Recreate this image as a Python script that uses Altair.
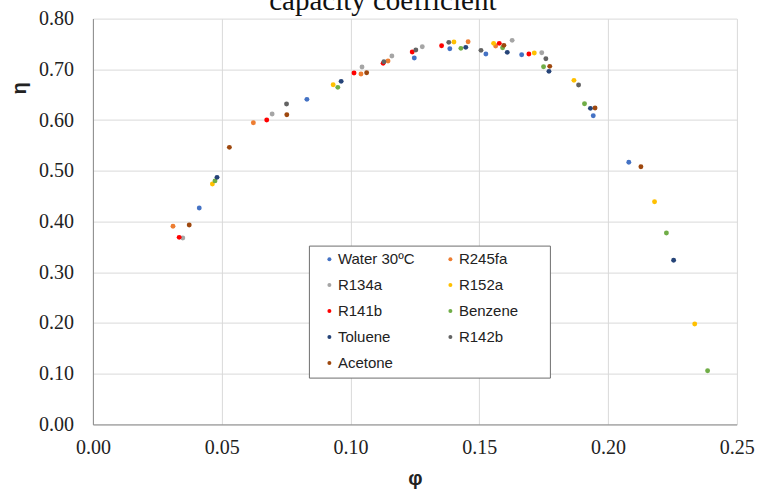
import altair as alt
import pandas as pd

series = ["Water 30ºC", "R245fa", "R134a", "R152a", "R141b",
          "Benzene", "Toluene", "R142b", "Acetone"]
colors = ["#4472C4", "#ED7D31", "#A5A5A5", "#FFC000", "#FF0000",
          "#70AD47", "#264478", "#636363", "#9E480E"]
sizes = [24, 24, 24, 24, 14, 14, 24, 24, 24]

water_x = [0.0413, 0.0831, 0.1248, 0.1386, 0.1526, 0.1665, 0.1943, 0.2081]
water_y = [0.4266, 0.6408, 0.7222, 0.7406, 0.7301, 0.7288, 0.6085, 0.5167]
r245fa_x = [0.0311, 0.0623, 0.1041, 0.1146, 0.1457, 0.1564]
r245fa_y = [0.3905, 0.5947, 0.6907, 0.7163, 0.7544, 0.7459]
r134a_x = [0.0349, 0.0696, 0.1045, 0.1161, 0.1279, 0.1628, 0.1743]
r134a_y = [0.3674, 0.6119, 0.7045, 0.7262, 0.7445, 0.7571, 0.7327]
r152a_x = [0.0464, 0.0933, 0.1402, 0.1556, 0.1714, 0.1868, 0.2181, 0.2337]
r152a_y = [0.4740, 0.6696, 0.7538, 0.7512, 0.7321, 0.6783, 0.4390, 0.1979]
r141b_x = [0.0335, 0.0675, 0.1014, 0.1127, 0.1240, 0.1354, 0.1578, 0.1693]
r141b_y = [0.3688, 0.6000, 0.6927, 0.7118, 0.7341, 0.7465, 0.7512, 0.7301]
benzene_x = [0.0474, 0.0951, 0.1429, 0.1591, 0.1750, 0.1909, 0.2227, 0.2387]
benzene_y = [0.4800, 0.6645, 0.7414, 0.7426, 0.7051, 0.6322, 0.3773, 0.1059]
toluene_x = [0.0482, 0.0964, 0.1448, 0.1609, 0.1771, 0.1932, 0.2255]
toluene_y = [0.4870, 0.6763, 0.7433, 0.7335, 0.6960, 0.6231, 0.3235]
r142b_x = [0.0752, 0.1130, 0.1254, 0.1382, 0.1507, 0.1759, 0.1886]
r142b_y = [0.6316, 0.7150, 0.7380, 0.7532, 0.7374, 0.7209, 0.6690]
acetone_x = [0.0374, 0.0530, 0.0753, 0.1063, 0.1596, 0.1774, 0.1950, 0.2128]
acetone_y = [0.3931, 0.5462, 0.6105, 0.6933, 0.7473, 0.7059, 0.6237, 0.5080]

x_ticks = [0.0, 0.05, 0.10, 0.15, 0.20, 0.25]
y_ticks = [0.0, 0.1, 0.2, 0.3, 0.4, 0.5, 0.6, 0.7, 0.8]

all_x = [water_x, r245fa_x, r134a_x, r152a_x, r141b_x,
         benzene_x, toluene_x, r142b_x, acetone_x]
all_y = [water_y, r245fa_y, r134a_y, r152a_y, r141b_y,
         benzene_y, toluene_y, r142b_y, acetone_y]

rows = []
for i, (name, xs, ys) in enumerate(zip(series, all_x, all_y)):
    for xv, yv in zip(xs, ys):
        rows.append({"phi": xv, "eta": yv, "fluid": name, "order": i})
df = pd.DataFrame(rows)

# legend fills column by column: reorder so rows read like the reference
col1 = [0, 2, 4, 6, 8]
col2 = [1, 3, 5, 7]
legend_order = [series[i] for i in col1 + col2]
legend_colors = [colors[i] for i in col1 + col2]
second_col = [series[i] for i in col2]

serif = "serif"
sans = "Liberation Sans"

pad_expr = ("indexof(" + str(second_col) + ", datum.label) >= 0 ? "
            "datum.label + '\u00a0\u00a0\u00a0\u00a0\u00a0\u00a0\u200b' : datum.label")

chart = alt.Chart(df).mark_circle(opacity=1).encode(
    x=alt.X("phi:Q",
            scale=alt.Scale(domain=[0, 0.25], nice=False, zero=False),
            axis=alt.Axis(values=x_ticks, format=".2f", title="φ",
                          labelFlush=False, labelFont=serif,
                          titleY=53.6, titleBaseline="middle")),
    y=alt.Y("eta:Q",
            scale=alt.Scale(domain=[0, 0.8], nice=False, zero=False),
            axis=alt.Axis(values=y_ticks, format=".2f", title="η",
                          labelFlush=False, labelFont=serif,
                          titleX=-73, titleY=69.4, titleAngle=-90,
                          titleAlign="center", titleBaseline="middle")),
    color=alt.Color("fluid:N",
                    scale=alt.Scale(domain=legend_order, range=legend_colors),
                    legend=alt.Legend(title=None, orient="none",
                                      legendX=216, legendY=227,
                                      columns=2, columnPadding=21,
                                      rowPadding=10, padding=6,
                                      symbolOffset=7, labelOffset=1,
                                      symbolType="circle", symbolSize=16,
                                      labelFont=sans, labelFontSize=15,
                                      labelColor="#222222",
                                      labelExpr=pad_expr,
                                      strokeColor="#6e6e6e",
                                      fillColor="white")),
    size=alt.Size("fluid:N", scale=alt.Scale(domain=series, range=sizes),
                  legend=None),
    order=alt.Order("order:Q"),
).properties(
    width=643.8,
    height=405.8,
    title=alt.TitleParams("capacity coefficient", font=serif,
                          fontSize=29, fontWeight="normal", color="#111111",
                          anchor="middle", baseline="alphabetic",
                          offset=0, dy=30, dx=-32),
    padding={"left": 92.9, "top": 18.6, "right": 21.3, "bottom": 65.6},
    autosize=alt.AutoSizeParams(type="none"),
).configure_view(
    stroke=None
).configure_axis(
    labelFontSize=20, labelColor="#222222",
    titleFont=sans, titleFontSize=20, titleFontWeight="bold",
    titleColor="#222222",
    grid=True, gridColor="#D9D9D9", gridWidth=1,
    ticks=False, domainColor="#8a8a8a", domainWidth=1,
).configure_axisX(
    labelPadding=13
).configure_axisY(
    labelPadding=19.5
)

chart.save("out.html", embed_options={"renderer": "svg", "actions": False})
